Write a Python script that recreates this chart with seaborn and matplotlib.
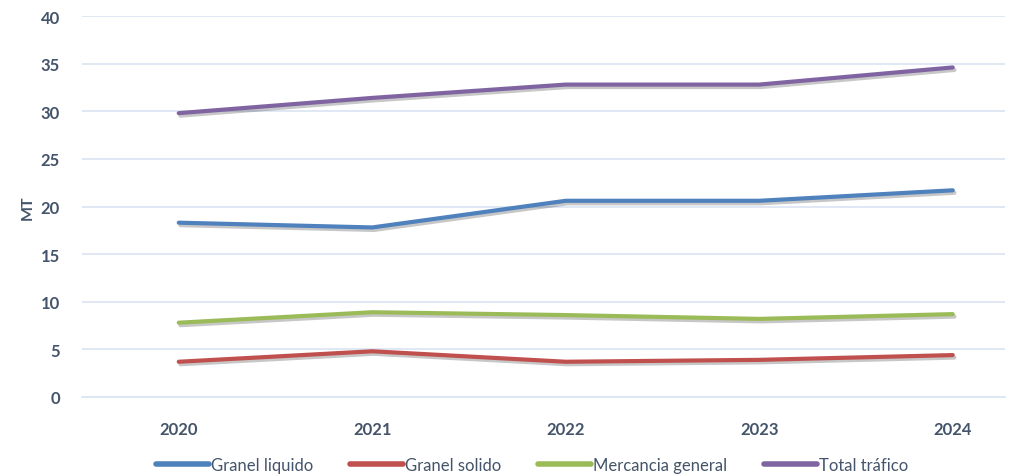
import matplotlib
matplotlib.use("Agg")
import matplotlib.pyplot as plt
import matplotlib.patheffects as pe
import seaborn as sns
import pandas as pd
import numpy as np

years = ["2020", "2021", "2022", "2023", "2024"]
granel_liquido = [18.3, 17.8, 20.6, 20.6, 21.7]
granel_solido = [3.7, 4.8, 3.7, 3.9, 4.4]
mercancia_general = [7.8, 8.9, 8.6, 8.2, 8.7]
total_trafico = [29.8, 31.4, 32.8, 32.8, 34.6]

series_names = ["Granel liquido", "Granel solido", "Mercancia general", "Total tráfico"]
series_vals = [granel_liquido, granel_solido, mercancia_general, total_trafico]
colors = ["#4F81BD", "#C0504D", "#9BBB59", "#8064A2"]

rows = []
for name, vals in zip(series_names, series_vals):
    for i, (y, v) in enumerate(zip(years, vals)):
        rows.append({"pos": i, "year": y, "serie": name, "MT": v})
df = pd.DataFrame(rows)

sns.set_theme(style="white")
plt.rcParams['font.family'] = ['Lato', 'DejaVu Sans']

text_color = "#44546A"
grid_color = "#D9E4F2"

fig = plt.figure(figsize=(10.09, 4.77), dpi=100)
W, H = 1009, 477
ax = fig.add_axes([82 / W, 1 - 398 / H, (1005 - 82) / W, (398 - 17) / H])

sns.lineplot(data=df, x="pos", y="MT", hue="serie", palette=colors,
             hue_order=series_names, linewidth=3.0, ax=ax, legend=True)

for line in ax.get_lines():
    line.set_solid_capstyle("round")
    line.set_path_effects([pe.SimpleLineShadow(offset=(1.2, -1.8), alpha=0.22, shadow_color="black"),
                           pe.Normal()])

ax.set_xlim(-0.5, 4.27)
ax.set_ylim(0, 40)
ax.set_yticks(np.arange(0, 41, 5))
ax.set_xticks(range(len(years)))
ax.set_xticklabels(years)
ax.set_xticks(np.arange(-0.5, 4.3, 1.0), minor=True)

ax.grid(axis="y", color=grid_color, linewidth=1.2)
ax.set_axisbelow(True)
for s in ["top", "right", "left"]:
    ax.spines[s].set_visible(False)
ax.spines["bottom"].set_color(grid_color)
ax.spines["bottom"].set_linewidth(1.2)

ax.tick_params(axis="y", length=0, pad=16, labelsize=12, labelcolor=text_color)
ax.tick_params(axis="x", which="major", length=0, pad=17, labelsize=12, labelcolor=text_color)
ax.tick_params(axis="x", which="minor", length=5, width=1.2, color=grid_color, direction="out")
for lbl in ax.get_xticklabels() + ax.get_yticklabels():
    lbl.set_fontweight("bold")

ax.set_xlabel("")
ax.set_ylabel("MT", fontsize=11.5, color=text_color, fontweight="bold", labelpad=4)

handles, labels = ax.get_legend_handles_labels()
ax.legend_.remove()
for h in handles:
    h.set_linewidth(4)
    h.set_path_effects([])
fig.legend(handles, labels, loc="center", bbox_to_anchor=(532 / W, 1 - 466 / H),
           ncol=4, frameon=False, fontsize=12, handlelength=3.2, handletextpad=0.1,
           columnspacing=2.2, labelcolor=text_color)

fig.savefig("out.png", dpi=100)
